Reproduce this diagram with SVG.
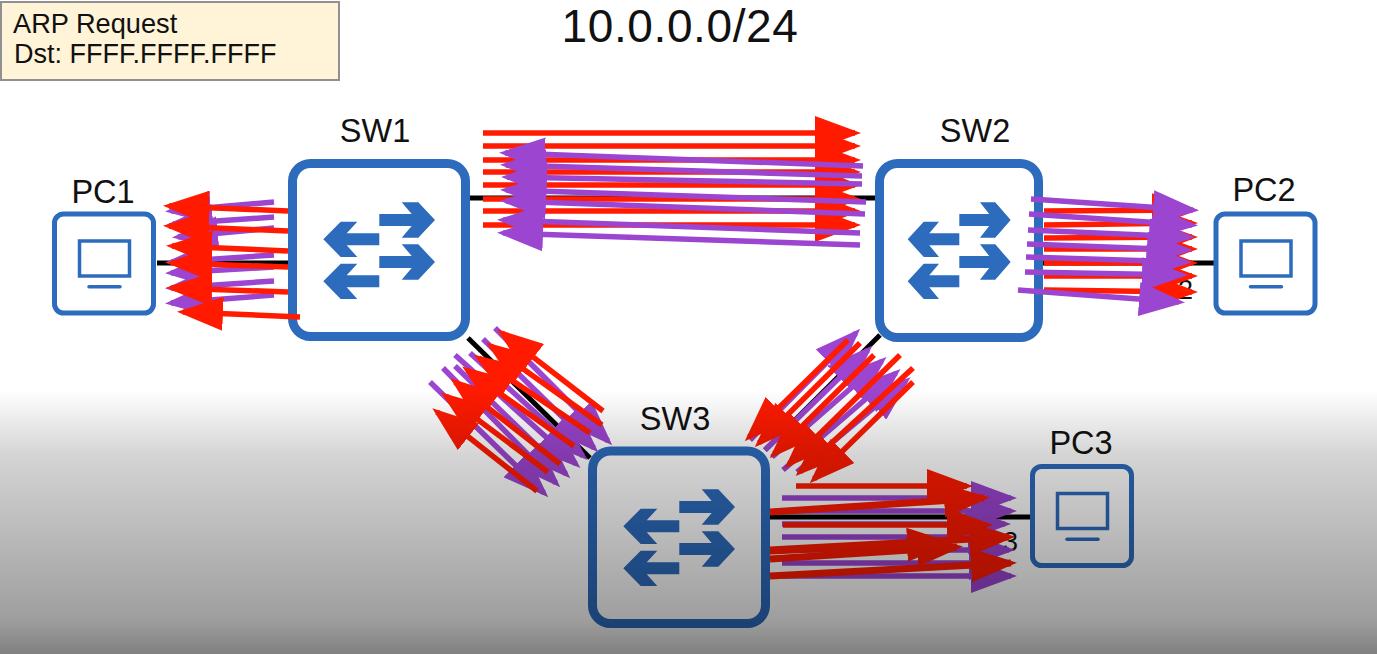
<svg xmlns="http://www.w3.org/2000/svg" width="1377" height="654" viewBox="0 0 1377 654">
<style>
text{font-family:"Liberation Sans",Arial,sans-serif;fill:#111}
.lbl{font-size:32.5px;text-anchor:middle}
.sw{fill:#fff;stroke:#2d6bbd;stroke-width:9}
.pc{fill:#fff;stroke:#2d6bbd;stroke-width:5}
.mon{fill:none;stroke:#2d6bbd;stroke-width:3.5}
.base{fill:none;stroke:#2d6bbd;stroke-width:3.5;stroke-linecap:round}
.link{stroke:#000;stroke-width:5;fill:none}
.r{stroke:#ff1a00;stroke-width:5.5;marker-end:url(#rh)}
.p{stroke:#9c45d0;stroke-width:5.5;marker-end:url(#ph)}
.t{stroke-width:7}
</style>
<defs>
<marker id="rh" markerUnits="userSpaceOnUse" markerWidth="48" markerHeight="34" refX="40" refY="17" orient="auto"><path d="M0 0L46 17L0 34z" fill="#ff1a00"/></marker>
<marker id="ph" markerUnits="userSpaceOnUse" markerWidth="48" markerHeight="34" refX="40" refY="17" orient="auto"><path d="M0 0L46 17L0 34z" fill="#9c45d0"/></marker>
<g id="swarrows" fill="#2d6bbd">
<path d="M379.3 214H411.7L401.7 202.3H418.3L435 220L418.3 237.7H401.7L411.7 226H379.3z"/>
<path d="M379.3 256H411.7L401.7 244.3H418.3L435 262L418.3 279.7H401.7L411.7 268H379.3z"/>
<path d="M379.3 233.3H346.7L357.3 221.7H340.7L323.3 239.3L340.7 257H357.3L346.7 245.3H379.3z"/>
<path d="M379.3 275.3H346.7L357.3 263.7H340.7L323.3 281.3L340.7 299H357.3L346.7 287.3H379.3z"/>
</g>
<g id="pcicon">
<rect class="pc" x="54.5" y="214" width="99" height="99" rx="9"/>
<rect class="mon" x="79.5" y="241" width="50" height="35"/>
<path class="base" d="M89 286.7H120"/>
</g>
<linearGradient id="shade" x1="0" y1="0" x2="0" y2="1">
<stop offset="0" stop-color="#000" stop-opacity="0"/>
<stop offset=".25" stop-color="#000" stop-opacity=".17"/>
<stop offset=".87" stop-color="#000" stop-opacity=".38"/>
<stop offset="1" stop-color="#000" stop-opacity=".5"/>
</linearGradient>
</defs>
<rect width="1377" height="654" fill="#fff"/>
<text x="680" y="42" font-size="46" letter-spacing=".6" text-anchor="middle">10.0.0.0/24</text>
<g id="note">
<rect x="1" y="2" width="338" height="78" fill="#fff4d8" stroke="#909090" stroke-width="2"/>
<text x="13" y="33" font-size="27.2">ARP Request</text>
<text x="14" y="62.5" font-size="27">Dst: FFFF.FFFF.FFFF</text>
</g>
<g id="connectors">
<path class="link" d="M470 198H876"/>
<path class="link" d="M157 263H290"/>
<path class="link" d="M1040 263H1215"/>
<path class="link" d="M468 338L590 458"/>
<path class="link" d="M880 335L765 450"/>
<path class="link" d="M769 517H1031"/>
</g>
<text x="1178" y="299" font-size="27">2</text>
<text x="1003" y="551" font-size="27">3</text>
<g id="SW1">
<rect class="sw" x="292.5" y="163.5" width="173" height="173" rx="18"/>
<use href="#swarrows"/>
<text class="lbl" x="375" y="142">SW1</text>
</g>
<g id="SW2">
<rect class="sw" x="879.5" y="163.5" width="159" height="174" rx="18"/>
<use href="#swarrows" transform="translate(609.6 0) scale(.922 1)"/>
<text class="lbl" x="975" y="142">SW2</text>
</g>
<g id="SW3">
<rect class="sw" x="592.5" y="451" width="173" height="172.500" rx="18"/>
<use href="#swarrows" transform="translate(300 287)"/>
<text class="lbl" x="675" y="430">SW3</text>
</g>
<g id="PC1"><use href="#pcicon"/><text class="lbl" x="103" y="203">PC1</text></g>
<g id="PC2"><use href="#pcicon" transform="translate(1161.5 0)"/><text class="lbl" x="1264" y="201">PC2</text></g>
<g id="PC3"><use href="#pcicon" transform="translate(978 252.5)"/><text class="lbl" x="1081" y="454">PC3</text></g>
<g id="arrows">
<!-- SW1 to PC1 -->
<line class="p" x1="274" y1="202" x2="171" y2="211"/>
<line class="p" x1="274" y1="217" x2="173" y2="224"/>
<line class="p" x1="274" y1="228" x2="178" y2="237"/>
<line class="p" x1="274" y1="255" x2="171" y2="262"/>
<line class="p" x1="274" y1="267" x2="171" y2="273"/>
<line class="p" x1="274" y1="281" x2="171" y2="288"/>
<line class="p" x1="274" y1="295" x2="171" y2="303"/>
<line class="r" x1="288" y1="211" x2="169" y2="206"/>
<line class="r" x1="288" y1="231" x2="169" y2="226"/>
<line class="r" x1="288" y1="251" x2="172" y2="246"/>
<line class="r" x1="288" y1="267" x2="172" y2="263"/>
<line class="r" x1="288" y1="292" x2="172" y2="288"/>
<line class="r" x1="300" y1="317" x2="183" y2="312"/>
<!-- SW1 to SW2 -->
<line class="r" x1="483" y1="133" x2="855" y2="133"/>
<line class="r" x1="483" y1="146" x2="855" y2="146"/>
<line class="r" x1="483" y1="160" x2="855" y2="160"/>
<line class="r" x1="483" y1="172" x2="855" y2="172"/>
<line class="r" x1="483" y1="185" x2="855" y2="185"/>
<line class="r" x1="483" y1="199" x2="855" y2="199"/>
<line class="r" x1="483" y1="211" x2="855" y2="211"/>
<line class="r" x1="483" y1="225" x2="855" y2="225"/>
<!-- SW2 to SW1 -->
<line class="p" x1="863" y1="166" x2="505" y2="153"/>
<line class="p" x1="862" y1="176" x2="506" y2="165"/>
<line class="p" x1="862" y1="184" x2="507" y2="177"/>
<line class="p" x1="866" y1="202" x2="506" y2="190"/>
<line class="p" x1="865" y1="214" x2="506" y2="201"/>
<line class="p" x1="860" y1="233" x2="503" y2="220"/>
<line class="p" x1="860" y1="245" x2="503" y2="233"/>
<!-- SW2 to PC2 -->
<line class="r" x1="1044" y1="211" x2="1192" y2="210"/>
<line class="r" x1="1044" y1="225" x2="1192" y2="223"/>
<line class="r" x1="1044" y1="238" x2="1192" y2="237"/>
<line class="r" x1="1044" y1="249" x2="1192" y2="249"/>
<line class="r" x1="1044" y1="263" x2="1192" y2="263"/>
<line class="r" x1="1044" y1="276" x2="1192" y2="276"/>
<line class="r" x1="1044" y1="290" x2="1192" y2="292"/>
<line class="p" x1="1031" y1="199" x2="1193" y2="210"/>
<line class="p" x1="1029" y1="214" x2="1192" y2="225"/>
<line class="p" x1="1028" y1="230" x2="1189" y2="237"/>
<line class="p" x1="1027" y1="244" x2="1187" y2="250"/>
<line class="p" x1="1026" y1="257" x2="1186" y2="262"/>
<line class="p" x1="1025" y1="272" x2="1182" y2="275"/>
<line class="p" x1="1018" y1="290" x2="1179" y2="302"/>
<!-- SW1 / SW3 -->
<line class="p" x1="430" y1="382" x2="544" y2="493"/>
<line class="p" x1="443" y1="368" x2="556" y2="483"/>
<line class="p" x1="455" y1="366" x2="566" y2="474"/>
<line class="p" x1="455" y1="355" x2="576" y2="464"/>
<line class="p" x1="470" y1="353" x2="583" y2="456"/>
<line class="p" x1="483" y1="339" x2="594" y2="448"/>
<line class="p" x1="495" y1="328" x2="608" y2="441"/>
<line class="r" x1="603" y1="411" x2="502" y2="333"/>
<line class="r" x1="602" y1="425" x2="491" y2="346"/>
<line class="r" x1="590" y1="433" x2="479" y2="358"/>
<line class="r" x1="574" y1="446" x2="467" y2="370"/>
<line class="r" x1="560" y1="464" x2="455" y2="382"/>
<line class="r" x1="548" y1="472" x2="446" y2="396"/>
<line class="r" x1="537" y1="491" x2="437" y2="412"/>
<!-- SW3 / SW2 -->
<line class="p" x1="750" y1="440" x2="856" y2="333"/>
<line class="p" x1="765" y1="450" x2="868" y2="350"/>
<line class="p" x1="772" y1="457" x2="882" y2="361"/>
<line class="p" x1="783" y1="470" x2="896" y2="373"/>
<line class="p" x1="797" y1="472" x2="906" y2="381"/>
<line class="r" x1="848" y1="340" x2="749" y2="437"/>
<line class="r" x1="860" y1="343" x2="759" y2="443"/>
<line class="r" x1="874" y1="355" x2="774" y2="454"/>
<line class="r" x1="900" y1="355" x2="789" y2="464"/>
<line class="r" x1="913" y1="368" x2="800" y2="472"/>
<line class="r" x1="913" y1="382" x2="814" y2="479"/>
<!-- SW3 to PC3 -->
<line class="p" x1="782" y1="498" x2="1011" y2="498"/>
<line class="p" x1="782" y1="511" x2="1011" y2="511"/>
<line class="p" x1="782" y1="524" x2="1005" y2="524"/>
<line class="p" x1="782" y1="537" x2="1008" y2="537"/>
<line class="p" x1="782" y1="550" x2="1009" y2="550"/>
<line class="p" x1="782" y1="563" x2="1009" y2="563"/>
<line class="p" x1="782" y1="576" x2="1011" y2="576"/>
<line class="r" x1="796" y1="486" x2="967" y2="486"/>
<line class="r t" x1="770" y1="512" x2="984" y2="498"/>
<line class="r" x1="783" y1="525" x2="987" y2="525"/>
<line class="r t" x1="770" y1="550" x2="1009" y2="537"/>
<line class="r t" x1="770" y1="559" x2="957" y2="547"/>
<line class="r t" x1="770" y1="551" x2="947" y2="543"/>
<line class="r t" x1="770" y1="576" x2="1011" y2="563"/>
</g>
<rect x="0" y="390" width="1377" height="264" fill="url(#shade)"/>
</svg>
